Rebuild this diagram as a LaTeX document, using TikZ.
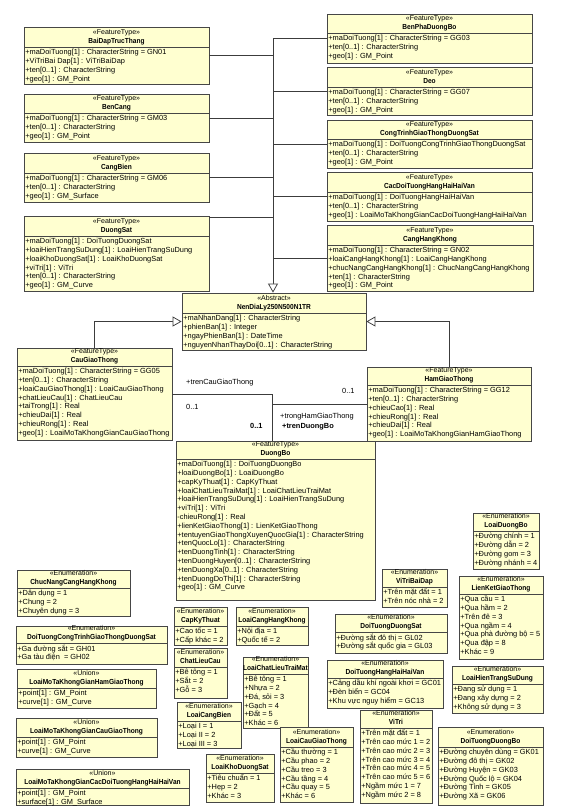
\documentclass[tikz,border=0pt]{standalone}
\usepackage{fontspec}
\setmainfont{Liberation Sans}
\newfontfamily\titlefont[FakeStretch=0.9, BoldFont={Liberation Sans Bold}]{Liberation Sans}
\usetikzlibrary{fit,arrows.meta}
\newcommand{\clsfont}{\fontsize{7.4}{8.8}\selectfont}
\newcommand{\stfont}{\fontsize{7}{8.8}\selectfont}
\newcommand{\ttlfont}{\titlefont\bfseries\fontsize{7.3}{8.8}\selectfont}
\definecolor{clsfill}{RGB}{255,255,208}
\definecolor{clsdraw}{RGB}{70,70,70}
\definecolor{conncol}{RGB}{60,60,60}
\tikzset{
  clsbox/.style={draw=clsdraw, fill=clsfill, line width=0.8pt, inner sep=0pt,
    preaction={draw=gray!80, line width=0.8pt, transform canvas={shift={(0.7pt,-0.7pt)}}}},
  clsline/.style={draw=clsdraw, line width=0.7pt},
  clstxt/.style={inner sep=0pt, font=\clsfont, text=black},
  conn/.style={draw=conncol, line width=0.75pt},
  gen/.style={conn, -{Triangle[length=9pt, width=10pt, fill=white]}},
  lbl/.style={inner sep=0pt, font=\clsfont, text=black, anchor=base west}
}
\newcommand{\umlcls}[9]{%
  \node[clsbox, fit={(#2,#3) (#4,#6)}] (#1) {};
  \draw[clsline] (#2,#5) -- (#4,#5);
  \node[clstxt, anchor=base, font=\stfont] (#1-st) at ({(#2+#4)/2},{#5-12.3}) {«#7»};
  \node[clstxt, anchor=base, font=\ttlfont] (#1-nm) at ({(#2+#4)/2},{#5-3.6}) {#8};
  \node[clstxt, anchor=north west, align=left] (#1-at) at ({#2+1.2},{#5+1.4}) {\rule{0pt}{6pt}#9};
}
\begin{document}
\begin{tikzpicture}[x=1pt, y=-1pt]
\fill[white] (0,0) rectangle (575,807);
\useasboundingbox (0,0) rectangle (575,807);

% left column
\umlcls{BaiDap}{24}{27}{209}{47}{84}{FeatureType}{BaiDapTrucThang}{+maDoiTuong[1] : CharacterString = GN01\\+ViTriBai Dap[1] : ViTriBaiDap\\+ten[0..1] : CharacterString\\+geo[1] : GM\_Point}
\umlcls{BenCang}{24}{94}{209}{113}{142}{FeatureType}{BenCang}{+maDoiTuong[1] : CharacterString = GM03\\+ten[0..1] : CharacterString\\+geo[1] : GM\_Point}
\umlcls{CangBien}{24}{153}{209}{173}{202}{FeatureType}{CangBien}{+maDoiTuong[1] : CharacterString = GM06\\+ten[0..1] : CharacterString\\+geo[1] : GM\_Surface}
\umlcls{DuongSat}{24}{216}{209}{236}{291}{FeatureType}{DuongSat}{+maDoiTuong[1] : DoiTuongDuongSat\\+loaiHienTrangSuDung[1] : LoaiHienTrangSuDung\\+loaiKhoDuongSat[1] : LoaiKhoDuongSat\\+viTri[1] : ViTri\\+ten[0..1] : CharacterString\\+geo[1] : GM\_Curve}

% right column
\umlcls{BenPha}{327}{14}{532}{33}{63}{FeatureType}{BenPhaDuongBo}{+maDoiTuong[1] : CharacterString = GG03\\+ten[0..1] : CharacterString\\+geo[1] : GM\_Point}
\umlcls{Deo}{327}{67}{532}{87}{115}{FeatureType}{Deo}{+maDoiTuong[1] : CharacterString = GG07\\+ten[0..1] : CharacterString\\+geo[1] : GM\_Point}
\umlcls{CongTrinh}{327}{120}{532}{139}{168}{FeatureType}{CongTrinhGiaoThongDuongSat}{+maDoiTuong[1] : DoiTuongCongTrinhGiaoThongDuongSat\\+ten[0..1] : CharacterString\\+geo[1] : GM\_Point}
\umlcls{CacDoiTuong}{327}{172}{532}{192}{221}{FeatureType}{CacDoiTuongHangHaiHaiVan}{+maDoiTuong[1] : DoiTuongHangHaiHaiVan\\+ten[0..1] : CharacterString\\+geo[1] : LoaiMoTaKhongGianCacDoiTuongHangHaiHaiVan}
\umlcls{CangHK}{327}{225}{533}{245}{291}{FeatureType}{CangHangKhong}{+maDoiTuong[1] : CharacterString = GN02\\+loaiCangHangKhong[1] : LoaiCangHangKhong\\+chucNangCangHangKhong[1] : ChucNangCangHangKhong\\+ten[1] : CharacterString\\+geo[1] : GM\_Point}

% abstract
\umlcls{Nen}{182}{293}{366}{313}{350}{Abstract}{NenDiaLy250N500N1TR}{+maNhanDang[1] : CharacterString\\+phienBan[1] : Integer\\+ngayPhienBan[1] : DateTime\\+nguyenNhanThayDoi[0..1] : CharacterString}

\umlcls{Cau}{17}{348}{172}{366}{440}{FeatureType}{CauGiaoThong}{+maDoiTuong[1] : CharacterString = GG05\\+ten[0..1] : CharacterString\\+loaiCauGiaoThong[1] : LoaiCauGiaoThong\\+chatLieuCau[1] : ChatLieuCau\\+taiTrong[1] : Real\\+chieuDai[1] : Real\\+chieuRong[1] : Real\\+geo[1] : LoaiMoTaKhongGianCauGiaoThong}
\umlcls{Ham}{367}{367}{531}{385}{441}{FeatureType}{HamGiaoThong}{+maDoiTuong[1] : CharacterString = GG12\\+ten[0..1] : CharacterString\\+chieuCao[1] : Real\\+chieuRong[1] : Real\\+chieuDai[1] : Real\\+geo[1] : LoaiMoTaKhongGianHamGiaoThong}
\umlcls{DuongBo}{176}{441}{375}{459}{600}{FeatureType}{DuongBo}{+maDoiTuong[1] : DoiTuongDuongBo\\+loaiDuongBo[1] : LoaiDuongBo\\+capKyThuat[1] : CapKyThuat\\+loaiChatLieuTraiMat[1] : LoaiChatLieuTraiMat\\+loaiHienTrangSuDung[1] : LoaiHienTrangSuDung\\+viTri[1] : ViTri\\-chieuRong[1] : Real\\+lienKetGiaoThong[1] : LienKetGiaoThong\\+tentuyenGiaoThongXuyenQuocGia[1] : CharacterString\\+tenQuocLo[1] : CharacterString\\+tenDuongTinh[1] : CharacterString\\+tenDuongHuyen[0..1] : CharacterString\\+tenDuongXa[0..1] : CharacterString\\+tenDuongDoThi[1] : CharacterString\\+geo[1] : GM\_Curve}

% enumerations and unions
\umlcls{ChucNang}{17}{570}{130}{588}{616}{Enumeration}{ChucNangCangHangKhong}{+Dân dụng = 1\\+Chung = 2\\+Chuyên dụng = 3}
\umlcls{DTCongTrinh}{16}{626}{167}{643}{664}{Enumeration}{DoiTuongCongTrinhGiaoThongDuongSat}{+Ga đường sắt = GH01\\+Ga tàu điện~ = GH02}
\umlcls{UHam}{17}{669}{156}{688}{708}{Union}{LoaiMoTaKhongGianHamGiaoThong}{+point[1] : GM\_Point\\+curve[1] : GM\_Curve}
\umlcls{UCau}{16}{718}{157}{737}{757}{Union}{LoaiMoTaKhongGianCauGiaoThong}{+point[1] : GM\_Point\\+curve[1] : GM\_Curve}
\umlcls{UCac}{16}{769}{189}{788}{805}{Union}{LoaiMoTaKhongGianCacDoiTuongHangHaiHaiVan}{+point[1] : GM\_Point\\+surface[1] : GM\_Surface}

\umlcls{CapKT}{174}{607}{227}{626}{645}{Enumeration}{CapKyThuat}{+Cao tốc = 1\\+Cấp khác = 2}
\umlcls{LCangHK}{236}{607}{308}{626}{645}{Enumeration}{LoaiCangHangKhong}{+Nội địa = 1\\+Quốc tế = 2}
\umlcls{CLCau}{174}{648}{227}{667}{698}{Enumeration}{ChatLieuCau}{+Bê tông = 1\\+Sắt = 2\\+Gỗ = 3}
\umlcls{LCLTM}{243}{657}{308}{674}{728}{Enumeration}{LoaiChatLieuTraiMat}{+Bê tông = 1\\+Nhựa = 2\\+Đá, sỏi = 3\\+Gạch = 4\\+Đất = 5\\+Khác = 6}
\umlcls{LCangBien}{177}{702}{241}{721}{748}{Enumeration}{LoaiCangBien}{+Loại I = 1\\+Loại II = 2\\+Loại III = 3}
\umlcls{LKhoDS}{206}{754}{274}{773}{802}{Enumeration}{LoaiKhoDuongSat}{+Tiêu chuẩn = 1\\+Hẹp = 2\\+Khác = 3}
\umlcls{LCauGT}{280}{727}{353}{747}{802}{Enumeration}{LoaiCauGiaoThong}{+Cầu thường = 1\\+Cầu phao = 2\\+Cầu treo = 3\\+Cầu tầng = 4\\+Cầu quay = 5\\+Khác = 6}

\umlcls{DTDuongSat}{335}{614}{447}{632}{653}{Enumeration}{DoiTuongDuongSat}{+Đường sắt đô thị = GL02\\+Đường sắt quốc gia = GL03}
\umlcls{DTHangHai}{327}{660}{443}{678}{708}{Enumeration}{DoiTuongHangHaiHaiVan}{+Cảng dầu khí ngoài khơi = GC01\\+Đèn biển = GC04\\+Khu vực nguy hiểm = GC13}
\umlcls{ViTri}{360}{710}{432}{728}{803}{Enumeration}{ViTri}{+Trên mặt đất = 1\\+Trên cao mức 1 = 2\\+Trên cao mức 2 = 3\\+Trên cao mức 3 = 4\\+Trên cao mức 4 = 5\\+Trên cao mức 5 = 6\\+Ngầm mức 1 = 7\\+Ngầm mức 2 = 8}
\umlcls{ViTriBD}{382}{569}{447}{587}{607}{Enumeration}{ViTriBaiDap}{+Trên mặt đất = 1\\+Trên nóc nhà = 2}
\umlcls{LDuongBo}{473}{513}{539}{531}{569}{Enumeration}{LoaiDuongBo}{+Đường chính = 1\\+Đường dẫn = 2\\+Đường gom = 3\\+Đường nhánh = 4}
\umlcls{LienKet}{459}{576}{543}{594}{659}{Enumeration}{LienKetGiaoThong}{+Qua cầu = 1\\+Qua hầm = 2\\+Trên đê = 3\\+Qua ngầm = 4\\+Qua phà đường bộ = 5\\+Qua đập = 8\\+Khác = 9}
\umlcls{LHTSD}{452}{666}{543}{684}{713}{Enumeration}{LoaiHienTrangSuDung}{+Đang sử dụng = 1\\+Đang xây dựng = 2\\+Không sử dụng = 3}
\umlcls{DTDuongBo}{438}{727}{543}{747}{805}{Enumeration}{DoiTuongDuongBo}{+Đường chuyên dùng = GK01\\+Đường đô thị = GK02\\+Đường Huyện = GK03\\+Đường Quốc lộ = GK04\\+Đường Tỉnh = GK05\\+Đường Xã = GK06}

% generalization bus
\coordinate (bus) at (273,0);
\coordinate (asc) at (272,0);
\coordinate (dsj) at ([yshift=-2pt]DuongSat.north east);
\draw[conn] (BaiDap.east) -- (BaiDap.east -| bus);
\draw[conn] (BenCang.east) -- (BenCang.east -| bus);
\draw[conn] (CangBien.east) -- (CangBien.east -| bus);
\draw[conn] (dsj) -- (dsj -| bus);
\draw[conn] (Deo.west) -- (Deo.west -| bus);
\draw[conn] (CongTrinh.west) -- (CongTrinh.west -| bus);
\draw[conn] (CacDoiTuong.west) -- (CacDoiTuong.west -| bus);
\draw[conn] (CangHK.west) -- (CangHK.west -| bus);
\draw[gen] (BenPha.west) -| (Nen.north -| bus);
\draw[gen] (Cau.north) |- (Nen.west);
\draw[gen] (Ham.north) |- (Nen.east);

% associations
\draw[conn] (Cau.east) -| (DuongBo.north -| asc);
\draw[conn] (Ham.west) -| (DuongBo.north -| asc);
\node[lbl] (l1) at (186,384.5) {+trenCauGiaoThong};
\node[lbl] (l2) at (186,409.5) {0..1};
\node[lbl] (l3) at (342,393.5) {0..1};
\node[lbl] (l4) at (280,418.5) {+trongHamGiaoThong};
\node[lbl, font=\clsfont\bfseries] (l5) at (282,428.5) {+trenDuongBo};
\node[lbl, font=\clsfont\bfseries] (l6) at (250,428.5) {0..1};
\end{tikzpicture}
\end{document}
